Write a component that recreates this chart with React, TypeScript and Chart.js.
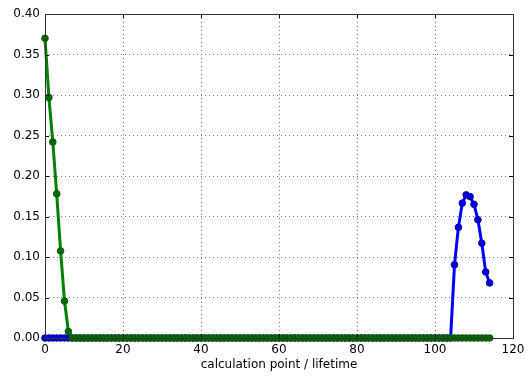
import React, { useEffect, useRef } from "react";
import { Chart, registerables } from "chart.js";

Chart.register(...registerables);

const POINT_COUNT = 115; // calculation points 0..114
const calculationPoints: number[] = Array.from({ length: POINT_COUNT }, (_, i) => i);

const greenHead: number[] = [0.370, 0.297, 0.242, 0.178, 0.1075, 0.0456, 0.008];
const greenValues: number[] = greenHead.concat(new Array(POINT_COUNT - greenHead.length).fill(0));

const blueTail: number[] = [0, 0.0905, 0.1366, 0.1665, 0.1767, 0.1745, 0.165, 0.146, 0.117, 0.0815, 0.068];
const blueValues: number[] = new Array(POINT_COUNT - blueTail.length).fill(0).concat(blueTail);

const xTicks = { min: 0, max: 120, step: 20 };
const yTicks = { min: 0, max: 0.4, step: 0.05 };
const xTitle = "calculation point / lifetime";

const framePlugin = {
  id: "frameTicks",
  afterDraw(chart: any) {
    const { ctx, chartArea } = chart;
    const { left, right, top, bottom } = chartArea;
    ctx.save();
    ctx.strokeStyle = "#000";
    ctx.lineWidth = 1;
    ctx.setLineDash([]);
    const xs = chart.scales.x;
    const ys = chart.scales.y;
    ctx.beginPath();
    xs.ticks.forEach((t: any) => {
      const px = Math.round(xs.getPixelForValue(t.value)) + 0.5;
      ctx.moveTo(px, bottom);
      ctx.lineTo(px, bottom - 4);
      ctx.moveTo(px, top);
      ctx.lineTo(px, top + 4);
    });
    ys.ticks.forEach((t: any) => {
      const py = Math.round(ys.getPixelForValue(t.value)) + 0.5;
      ctx.moveTo(left, py);
      ctx.lineTo(left + 4, py);
      ctx.moveTo(right, py);
      ctx.lineTo(right - 4, py);
    });
    ctx.stroke();
    ctx.strokeStyle = "#333";
    ctx.strokeRect(Math.round(left) + 0.5, Math.round(top) + 0.5, Math.round(right - left), Math.round(bottom - top));
    ctx.restore();
  },
};

export default function App() {
  const ref = useRef<HTMLCanvasElement | null>(null);
  useEffect(() => {
    if (!ref.current) return;
    const toPts = (vals: number[]) => vals.map((v, i) => ({ x: calculationPoints[i], y: v }));
    const chart = new Chart(ref.current, {
      type: "scatter",
      data: {
        datasets: [
          {
            label: "green",
            data: toPts(greenValues),
            showLine: true,
            borderColor: "#008000",
            backgroundColor: "#006a00",
            pointBackgroundColor: "#006a00",
            pointBorderColor: "#005500",
            borderWidth: 3,
            pointRadius: 3.3,
            pointBorderWidth: 1,
            clip: 6,
          },
          {
            label: "blue",
            data: toPts(blueValues),
            showLine: true,
            borderColor: "#0000ff",
            backgroundColor: "#0000dd",
            pointBackgroundColor: "#0000dd",
            pointBorderColor: "#0000aa",
            borderWidth: 3,
            pointRadius: 3.3,
            pointBorderWidth: 1,
            clip: 6,
          },
        ],
      },
      options: {
        animation: false,
        responsive: false,
        layout: { padding: { left: 0, right: 17, top: 14, bottom: 0 } },
        plugins: { legend: { display: false }, tooltip: { enabled: false } },
        scales: {
          x: {
            type: "linear",
            min: xTicks.min,
            max: xTicks.max,
            ticks: {
              stepSize: xTicks.step,
              color: "#000",
              font: { family: "DejaVu Sans", size: 12 },
              padding: 5,
              maxRotation: 0,
            },
            grid: { color: "#777", lineWidth: 1, tickLength: 0, drawTicks: false },
            border: { display: false, dash: [1, 3] },
            title: {
              display: true,
              text: xTitle,
              color: "#000",
              font: { family: "DejaVu Sans", size: 12 },
              padding: { top: 1, bottom: 4 },
            },
            afterFit: (s: any) => { s.height = 38; },
          },
          y: {
            type: "linear",
            min: yTicks.min,
            max: yTicks.max,
            ticks: {
              stepSize: yTicks.step,
              color: "#000",
              font: { family: "DejaVu Sans", size: 12 },
              padding: 5,
              callback: (v: any) => Number(v).toFixed(2),
            },
            grid: { color: "#777", lineWidth: 1, tickLength: 0, drawTicks: false },
            border: { display: false, dash: [1, 3] },
            afterFit: (s: any) => { s.width = 45; },
          },
        },
      },
      plugins: [framePlugin],
    });
    return () => chart.destroy();
  }, []);
  return (
    <div style={{ position: "fixed", left: 0, top: 0, width: 530, height: 376, background: "#fff" }}>
      <canvas ref={ref} width={530} height={376} style={{ width: 530, height: 376 }} />
    </div>
  );
}
